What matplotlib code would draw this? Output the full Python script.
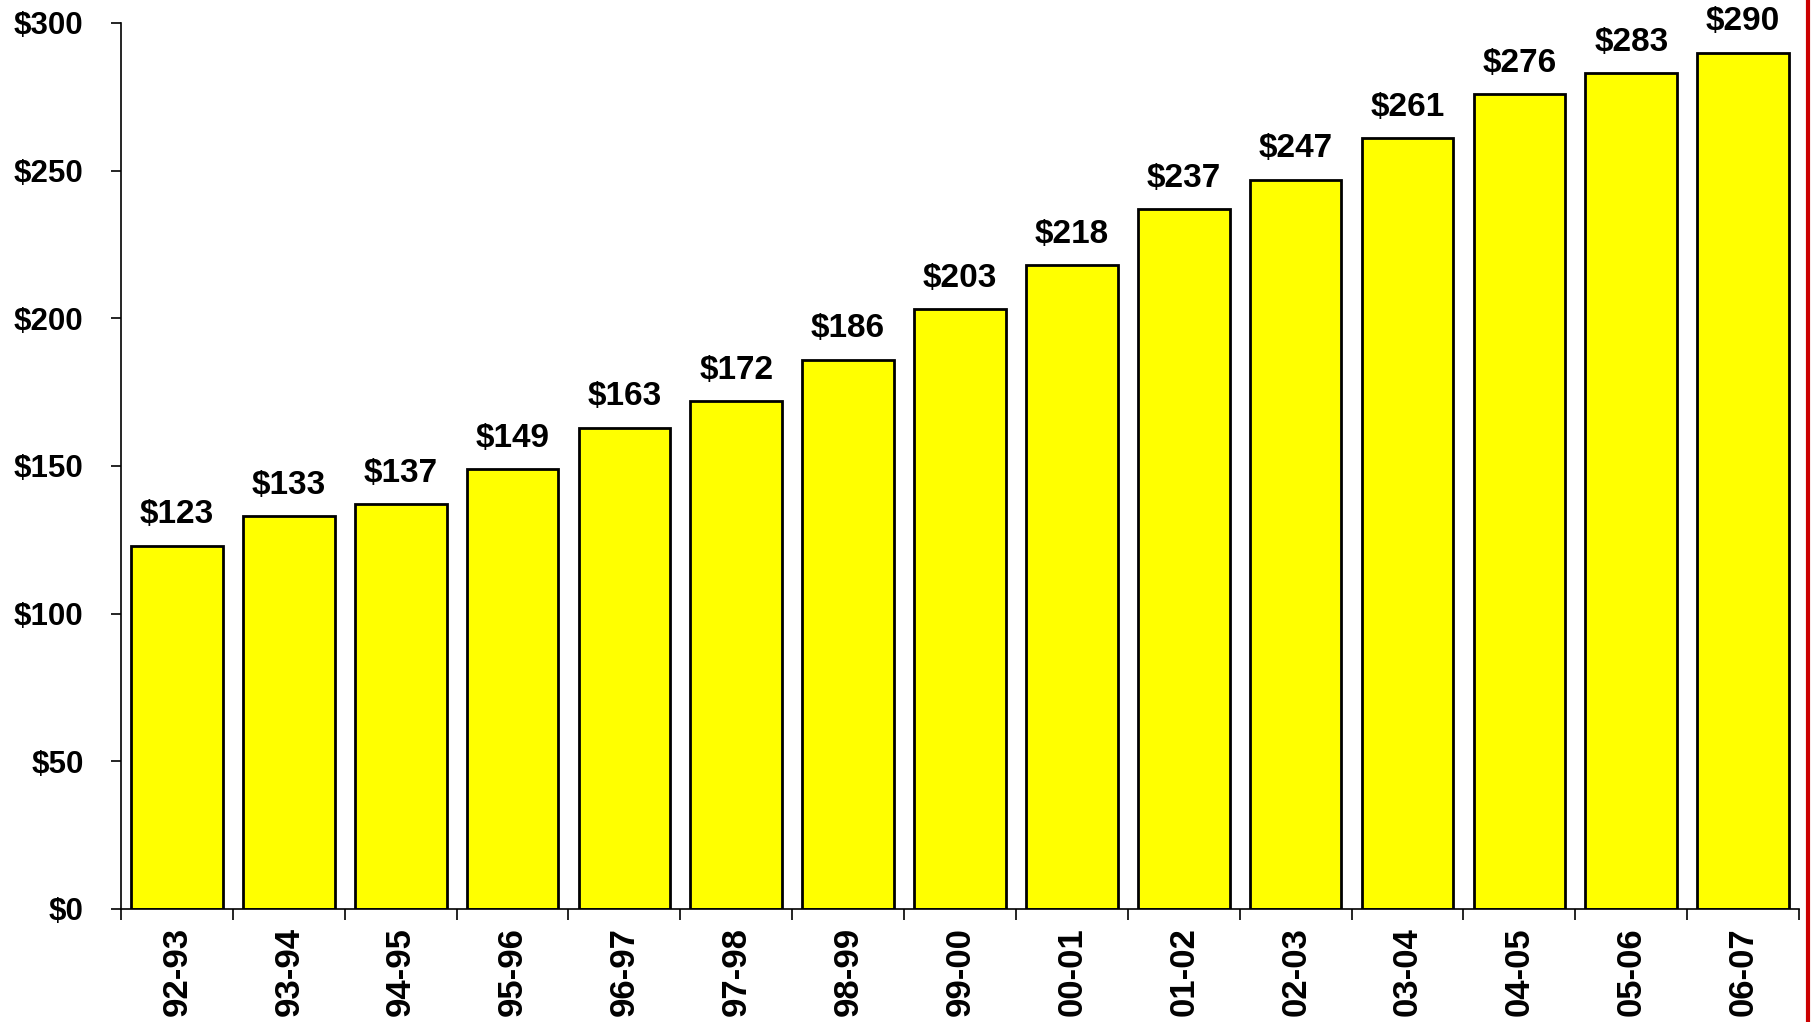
import matplotlib
matplotlib.use('Agg')
import matplotlib.pyplot as plt
from matplotlib.lines import Line2D
import numpy as np

YEARS = ['92-93', '93-94', '94-95', '95-96', '96-97', '97-98', '98-99', '99-00',
         '00-01', '01-02', '02-03', '03-04', '04-05', '05-06', '06-07']
VALUES = [123, 133, 137, 149, 163, 172, 186, 203, 218, 237, 247, 261, 276, 283, 290]
Y_TICKS = [0, 50, 100, 150, 200, 250, 300]

BAR_COLOR = '#ffff00'
FONT = ['Liberation Sans', 'DejaVu Sans']

plt.rcParams['font.family'] = FONT
plt.rcParams['font.weight'] = 'bold'

fig = plt.figure(figsize=(18.11, 10.22), dpi=100)
ax = fig.add_axes([0.0668, 0.1106, 0.9266, 0.8669])

x = np.arange(len(YEARS))
bars = ax.bar(x, VALUES, width=0.82, color=BAR_COLOR, edgecolor='black', linewidth=2)

for rect, val in zip(bars, VALUES):
    ax.annotate('${:d}'.format(val), (rect.get_x() + rect.get_width() / 2, val),
                xytext=(0, 11), textcoords='offset points', ha='center', va='bottom',
                fontsize=24, fontweight='bold')

ax.set_xlim(-0.5, len(YEARS) - 0.5)
ax.set_ylim(0, 300)

# ticks sit between categories, labels sit under the bars
ax.set_xticks(np.arange(-0.5, len(YEARS), 1.0))
ax.set_xticklabels([])
ax.set_xticks(x, minor=True)
ax.set_xticklabels(YEARS, minor=True, rotation=90, fontsize=25, fontweight='bold')
ax.tick_params(axis='x', which='major', length=8, width=1.2, direction='out')
ax.tick_params(axis='x', which='minor', length=0, pad=13)

ax.set_yticks(Y_TICKS)
ax.set_yticklabels(['${:d}'.format(t) for t in Y_TICKS], fontsize=22.5, fontweight='bold')
ax.tick_params(axis='y', length=7, width=1.2, direction='out', pad=20)

for side in ['top', 'right']:
    ax.spines[side].set_visible(False)
for side in ['left', 'bottom']:
    ax.spines[side].set_linewidth(1.2)

# red border at the right edge of the slide
fig.add_artist(Line2D([0.9985, 0.9985], [0, 1], color='#cc0000', linewidth=3,
                      transform=fig.transFigure))

fig.savefig('out.png', dpi=100)
